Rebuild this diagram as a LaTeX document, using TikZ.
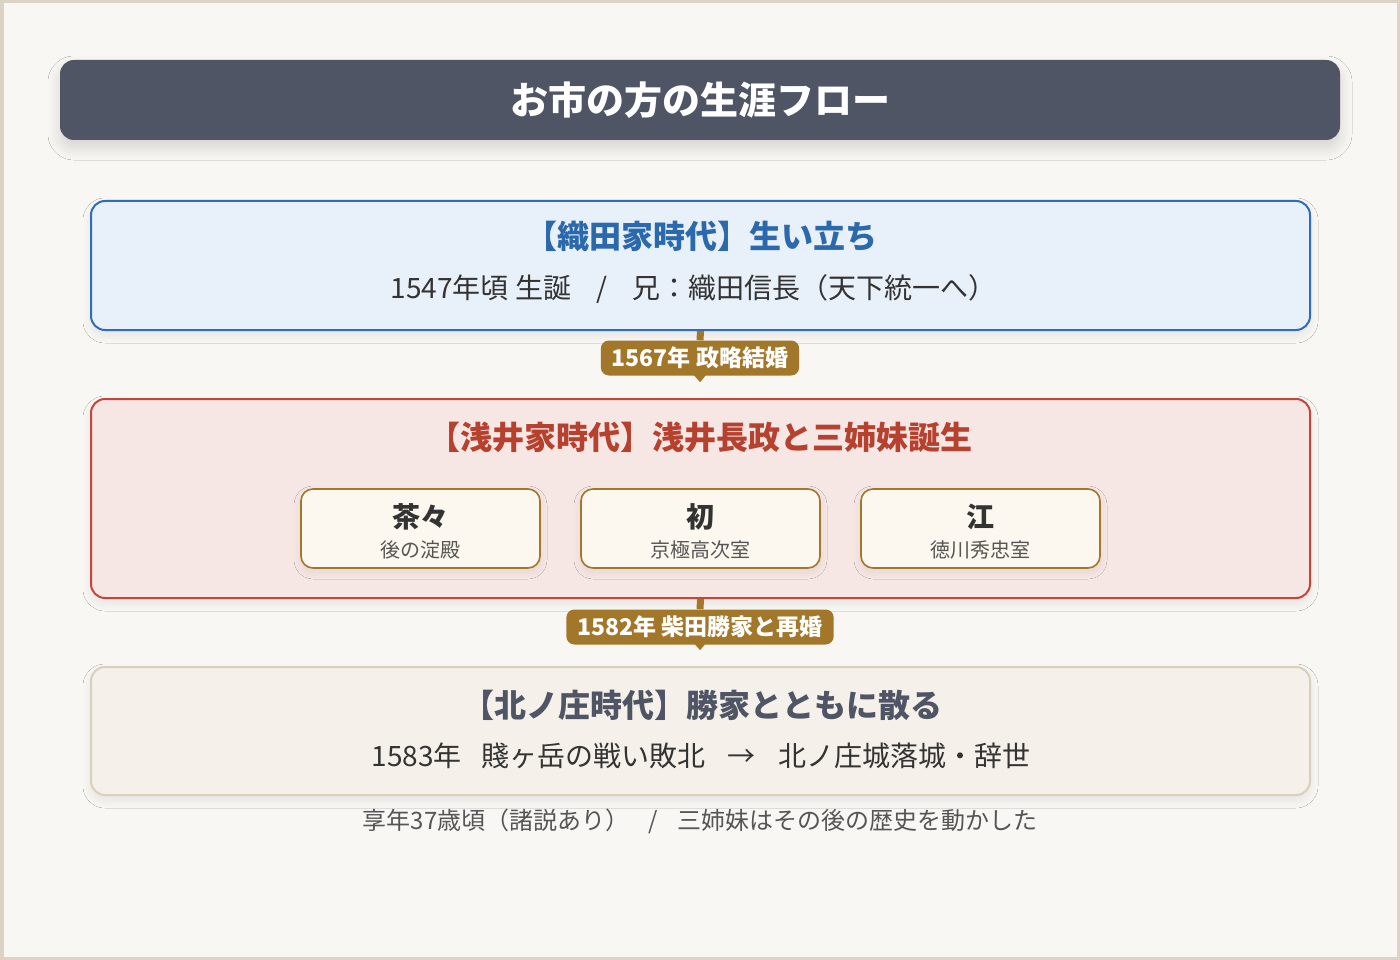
\documentclass[tikz,border=0pt]{standalone}
\usepackage{fontspec}
\setmainfont{Noto Sans CJK JP}
\usetikzlibrary{positioning, arrows.meta, shadows.blur}
\definecolor{paper}{HTML}{F9F7F3}
\definecolor{frameline}{HTML}{DCD3C5}
\definecolor{slate}{HTML}{4F5565}
\definecolor{odafill}{HTML}{E8F0FA}
\definecolor{odaline}{HTML}{2F6DB5}
\definecolor{odahead}{HTML}{2C69AC}
\definecolor{azaifill}{HTML}{F6E7E5}
\definecolor{azailine}{HTML}{C0473A}
\definecolor{azaihead}{HTML}{B5412E}
\definecolor{kitafill}{HTML}{F5F0E9}
\definecolor{kitaline}{HTML}{D9CFBF}
\definecolor{gold}{HTML}{A2772A}
\definecolor{cardfill}{HTML}{FCF8EF}
\definecolor{ink}{HTML}{333333}
\definecolor{grayink}{HTML}{555555}
\newcommand{\fs}[1]{\fontsize{#1}{#1}\selectfont}
\tikzset{
    panel/.style = {draw, line width=2pt, rounded corners=14pt, minimum width=1219pt,
        blur shadow={shadow xshift=0pt, shadow yshift=-5pt, shadow blur radius=8pt,
            shadow blur steps=10, shadow opacity=8}},
    head/.style = {font=\fs{32}\bfseries, inner sep=0pt},
    body/.style = {font=\fs{28}, text=ink, inner sep=0pt},
    badge/.style = {fill=gold, text=white, rounded corners=8pt, font=\fs{23}\bfseries,
        minimum height=35pt, inner xsep=11pt, inner ysep=0pt},
    stub/.style = {draw=gold, line width=7pt},
    pointer/.style = {draw=gold, line width=.1pt, -{Triangle[width=14pt,length=8pt]}, shorten >=16pt},
    card/.style = {draw=gold, fill=cardfill, line width=1.6pt, rounded corners=12pt,
        minimum width=239pt, minimum height=79pt,
        blur shadow={shadow xshift=0pt, shadow yshift=-4pt, shadow blur radius=7pt,
            shadow blur steps=10, shadow opacity=8}},
}
\begin{document}
\begin{tikzpicture}[x=1pt,y=-1pt]
\useasboundingbox (0,0) rectangle (1400,960);
\draw[fill=paper, draw=frameline, line width=7pt] (0,0) rectangle (1400,960);

% title bar
\node[fill=slate, text=white, rounded corners=14pt, minimum width=1280pt, minimum height=80pt,
    font=\fs{38}\bfseries,
    blur shadow={shadow xshift=0pt, shadow yshift=-8pt, shadow blur radius=12pt,
        shadow blur steps=10, shadow opacity=14}]
    (title) at (700,100) {お市の方の生涯フロー};

% Oda period
\node[panel, draw=odaline, fill=odafill, minimum height=129pt] (oda) at (700.5,265.5) {};
\node[head, text=odahead] (odahead) at (701,236) {【織田家時代】生い立ち};
\node[body] (odabody) at (693.5,289) {1547年頃 生誕\hspace{.9em}/\hspace{.9em}兄：織田信長（天下統一へ）};

% Azai period
\node[panel, draw=azailine, fill=azaifill, minimum height=199pt] (azai) at (700.5,498.5) {};
\node[head, text=azaihead] (azaihead) at (700,437) {【浅井家時代】浅井長政と三姉妹誕生};
\foreach \n/\nm/\sub/\x in {chacha/茶々/後の淀殿/420.5, hatsu/初/京極高次室/700.5, go/江/徳川秀忠室/980.5}{
    \node[card] (\n) at (\x,528.5) {};
    \node[font=\fs{28}\bfseries, text=ink, inner sep=0pt] (\n-name) at (\x,517) {\nm};
    \node[font=\fs{20}, text=grayink, inner sep=0pt] (\n-sub) at (\x,550) {\sub};
}

% Kitanosho period
\node[panel, draw=kitaline, fill=kitafill, minimum height=128pt] (kita) at (700.5,731) {};
\node[head, text=slate] (kitahead) at (702,705) {【北ノ庄時代】勝家とともに散る};
\node[body] (kitabody) at (701,756) {1583年\hspace{.7em}賤ヶ岳の戦い敗北\hspace{.8em}→\hspace{.8em}北ノ庄城落城・辞世};

% badges
\node[badge] (m1) at (700,358) {1567年 政略結婚};
\node[badge] (m2) at (700,627) {1582年 柴田勝家と再婚};
\draw[stub] (oda.south) -- (m1.north);
\draw[pointer] (m1.south) -- (azai.north);
\draw[stub] (azai.south) -- (m2.north);
\draw[pointer] (m2.south) -- (kita.north);

% footer
\node[font=\fs{24}, text=grayink, inner sep=0pt] (foot) at (700,821) {享年37歳頃（諸説あり）\hspace{.8em}/\hspace{.8em}三姉妹はその後の歴史を動かした};
\end{tikzpicture}
\end{document}
